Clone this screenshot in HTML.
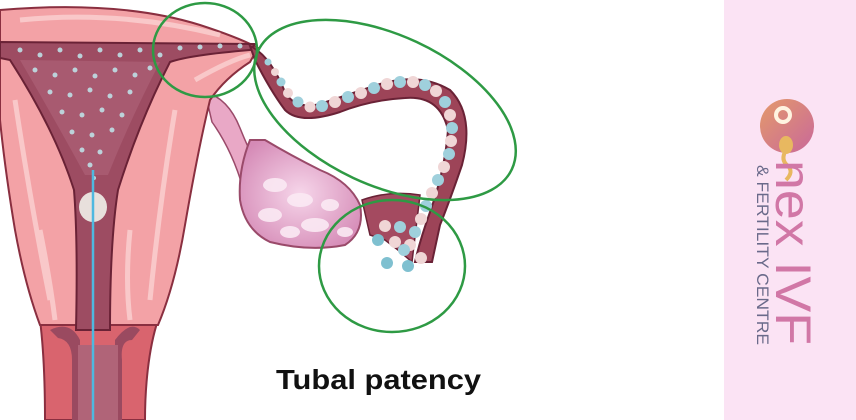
<!DOCTYPE html>
<html><head><meta charset="utf-8"><style>
html,body{margin:0;padding:0;background:#fff;}
body{width:856px;height:420px;overflow:hidden;position:relative;font-family:"Liberation Sans",sans-serif;}
</style></head><body>
<svg width="856" height="420" viewBox="0 0 856 420" style="position:absolute;left:0;top:0">
<defs>
<linearGradient id="lg" x1="0" y1="0" x2="1" y2="1">
<stop offset="0" stop-color="#e49a6a"/><stop offset="1" stop-color="#c9689a"/></linearGradient>
<radialGradient id="ov" cx="0.5" cy="0.5" r="0.6"><stop offset="0" stop-color="#f6d6ea"/><stop offset="1" stop-color="#d58ab6"/></radialGradient>
</defs>
<rect x="724" y="0" width="132" height="420" fill="#fbe3f4"/>
<!-- vagina -->
<path d="M40,320 C45,360 45,400 45,420 L145,420 C145,390 148,350 158,320 Z" fill="#d9646e" stroke="#8a2f40" stroke-width="2"/>
<path d="M50,330 Q70,320 80,340 L80,420 L115,420 L115,340 Q130,320 140,330 L132,340 Q120,340 122,360 L122,420 L72,420 L72,360 Q72,340 58,338 Z" fill="#9a4a60"/>
<path d="M78,345 L118,345 L118,420 L78,420 Z" fill="#b06478"/>
<!-- ovary stem -->
<path d="M205,92 Q228,98 240,128 Q252,158 262,172 L243,188 Q232,150 212,122 Z" fill="#e9a8c6" stroke="#9a4a6a" stroke-width="1.5"/>
<!-- ovary -->
<path d="M250,140 Q238,170 240,200 Q245,230 270,242 Q310,252 345,245 Q365,232 360,205 Q350,182 320,170 Q290,155 265,140 Z" fill="url(#ov)" stroke="#9a4a6a" stroke-width="2"/>
<g fill="#fbeaf4" opacity="0.9"><ellipse cx="275" cy="185" rx="12" ry="7"/><ellipse cx="300" cy="200" rx="13" ry="7"/><ellipse cx="270" cy="215" rx="12" ry="7"/><ellipse cx="315" cy="225" rx="14" ry="7"/><ellipse cx="290" cy="232" rx="10" ry="6"/><ellipse cx="330" cy="205" rx="9" ry="6"/><ellipse cx="345" cy="232" rx="8" ry="5"/></g>
<!-- uterus body -->
<path d="M0,10 Q120,0 200,25 Q240,38 258,48 L250,62 Q225,78 210,100 Q198,150 185,225 Q175,285 158,325 L40,325 Q25,285 15,230 Q5,170 0,120 Z" fill="#f3a2a6" stroke="#8a2f40" stroke-width="2"/>
<g stroke="#fbd2d2" stroke-width="5" fill="none" opacity="0.8">
<path d="M20,20 Q120,10 220,35"/><path d="M15,100 Q30,200 50,300"/><path d="M175,110 Q160,200 150,300"/><path d="M195,80 Q230,60 250,55"/><path d="M130,230 Q125,280 130,320"/><path d="M40,230 Q50,280 55,320"/></g>
<!-- cavity -->
<path d="M0,42 L255,44 L250,50 Q190,55 170,62 Q140,120 118,190 Q110,240 110,330 L76,330 Q78,240 74,190 Q55,130 10,60 L0,58 Z" fill="#9d4c62" stroke="#6a2236" stroke-width="2"/>
<path d="M20,60 L160,62 Q130,120 108,175 L85,175 Q55,120 20,60Z" fill="#a85a70"/>
<g fill="#bfe0e6" opacity="0.9">
<circle cx="20" cy="50" r="2.5"/><circle cx="40" cy="55" r="2.5"/><circle cx="60" cy="50" r="2.5"/><circle cx="80" cy="56" r="2.5"/><circle cx="100" cy="50" r="2.5"/><circle cx="120" cy="55" r="2.5"/><circle cx="140" cy="50" r="2.5"/><circle cx="160" cy="55" r="2.5"/><circle cx="180" cy="48" r="2.5"/><circle cx="200" cy="47" r="2.5"/><circle cx="220" cy="46" r="2.5"/><circle cx="240" cy="46" r="2.5"/>
<circle cx="35" cy="70" r="2.5"/><circle cx="55" cy="75" r="2.5"/><circle cx="75" cy="70" r="2.5"/><circle cx="95" cy="76" r="2.5"/><circle cx="115" cy="70" r="2.5"/><circle cx="135" cy="75" r="2.5"/><circle cx="150" cy="68" r="2.5"/>
<circle cx="50" cy="92" r="2.5"/><circle cx="70" cy="95" r="2.5"/><circle cx="90" cy="90" r="2.5"/><circle cx="110" cy="96" r="2.5"/><circle cx="130" cy="92" r="2.5"/>
<circle cx="62" cy="112" r="2.5"/><circle cx="82" cy="115" r="2.5"/><circle cx="102" cy="110" r="2.5"/><circle cx="122" cy="115" r="2.5"/>
<circle cx="72" cy="132" r="2.5"/><circle cx="92" cy="135" r="2.5"/><circle cx="112" cy="130" r="2.5"/>
<circle cx="82" cy="150" r="2.5"/><circle cx="100" cy="152" r="2.5"/><circle cx="90" cy="165" r="2.5"/><circle cx="94" cy="178" r="2"/></g>
<!-- canal plug and line -->
<ellipse cx="93" cy="207" rx="14" ry="15" fill="#e8e0dc"/>
<line x1="93" y1="170" x2="93" y2="420" stroke="#4fb8e0" stroke-width="2.5"/>
<!-- tube -->
<path d="M250,46 Q270,55 285,92 Q295,110 320,104 L380,84 Q420,72 450,90 Q475,115 462,165 Q450,200 440,225 L432,262 L415,262 Q420,240 430,212 Q445,170 448,130 Q440,95 405,98 Q370,100 340,112 Q300,125 285,110 Q270,90 255,60 Z" fill="#9d4458" stroke="#6a2236" stroke-width="2"/>
<path d="M362,200 Q390,190 420,195 L412,262 L398,250 L385,240 L370,235 Z" fill="#a44a60" stroke="#6a2236" stroke-width="1.5"/>
<g>
<circle cx="268" cy="62" r="3.5" fill="#9fd0dc"/><circle cx="275" cy="72" r="4" fill="#f0d6d6"/><circle cx="281" cy="82" r="4.5" fill="#9fd0dc"/><circle cx="288" cy="93" r="5" fill="#f0d6d6"/><circle cx="298" cy="102" r="5.5" fill="#9fd0dc"/><circle cx="310" cy="107" r="5.5" fill="#f0d6d6"/>
<circle cx="322" cy="106" r="6" fill="#9fd0dc"/><circle cx="335" cy="102" r="6" fill="#f0d6d6"/><circle cx="348" cy="97" r="6" fill="#9fd0dc"/><circle cx="361" cy="93" r="6" fill="#f0d6d6"/><circle cx="374" cy="88" r="6" fill="#9fd0dc"/><circle cx="387" cy="84" r="6" fill="#f0d6d6"/><circle cx="400" cy="82" r="6" fill="#9fd0dc"/><circle cx="413" cy="82" r="6" fill="#f0d6d6"/><circle cx="425" cy="85" r="6" fill="#9fd0dc"/><circle cx="436" cy="91" r="6" fill="#f0d6d6"/><circle cx="445" cy="102" r="6" fill="#9fd0dc"/><circle cx="450" cy="115" r="6" fill="#f0d6d6"/><circle cx="452" cy="128" r="6" fill="#9fd0dc"/><circle cx="451" cy="141" r="6" fill="#f0d6d6"/><circle cx="449" cy="154" r="6" fill="#9fd0dc"/><circle cx="444" cy="167" r="6" fill="#f0d6d6"/><circle cx="438" cy="180" r="6" fill="#9fd0dc"/><circle cx="432" cy="193" r="6" fill="#f0d6d6"/><circle cx="426" cy="206" r="6" fill="#9fd0dc"/><circle cx="421" cy="219" r="6" fill="#f0d6d6"/><circle cx="415" cy="232" r="6" fill="#9fd0dc"/><circle cx="410" cy="245" r="6" fill="#f0d6d6"/>
<circle cx="385" cy="226" r="6" fill="#f0d6d6"/><circle cx="400" cy="227" r="6" fill="#9fd0dc"/><circle cx="395" cy="242" r="6" fill="#f0d6d6"/><circle cx="404" cy="250" r="6" fill="#9fd0dc"/><circle cx="421" cy="258" r="6" fill="#f0d6d6"/>
<circle cx="378" cy="240" r="6" fill="#7fc0d0"/><circle cx="387" cy="263" r="6" fill="#7fc0d0"/><circle cx="408" cy="266" r="6" fill="#7fc0d0"/></g>
<!-- green circles -->
<g fill="none" stroke="#2e9a44" stroke-width="2.5">
<ellipse cx="205" cy="50" rx="52" ry="47"/>
<ellipse cx="385" cy="110" rx="140" ry="75" transform="rotate(25 385 110)"/>
<ellipse cx="392" cy="266" rx="73" ry="66"/>
</g>
<text x="276" y="389" font-family="Liberation Sans, sans-serif" font-weight="bold" font-size="28" textLength="205" lengthAdjust="spacingAndGlyphs" fill="#111">Tubal patency</text>
<!-- logo -->
<circle cx="787" cy="126" r="27" fill="url(#lg)"/>
<circle cx="783" cy="115" r="7" fill="none" stroke="#fff4e0" stroke-width="4"/>
<ellipse cx="786" cy="145" rx="7" ry="9" fill="#e8b860"/>
<path d="M786,150 Q780,160 788,166 Q794,172 786,180" stroke="#e8b860" stroke-width="4" fill="none"/>
<text transform="translate(776,160) rotate(90)" font-family="Liberation Sans, sans-serif" font-size="50" fill="#d177a6" textLength="185" lengthAdjust="spacingAndGlyphs">nex IVF</text>
<text transform="translate(757,165) rotate(90)" font-family="Liberation Sans, sans-serif" font-size="17" fill="#6a6a8a" textLength="180" lengthAdjust="spacingAndGlyphs">&amp; FERTILITY CENTRE</text>
</svg>
</body></html>
